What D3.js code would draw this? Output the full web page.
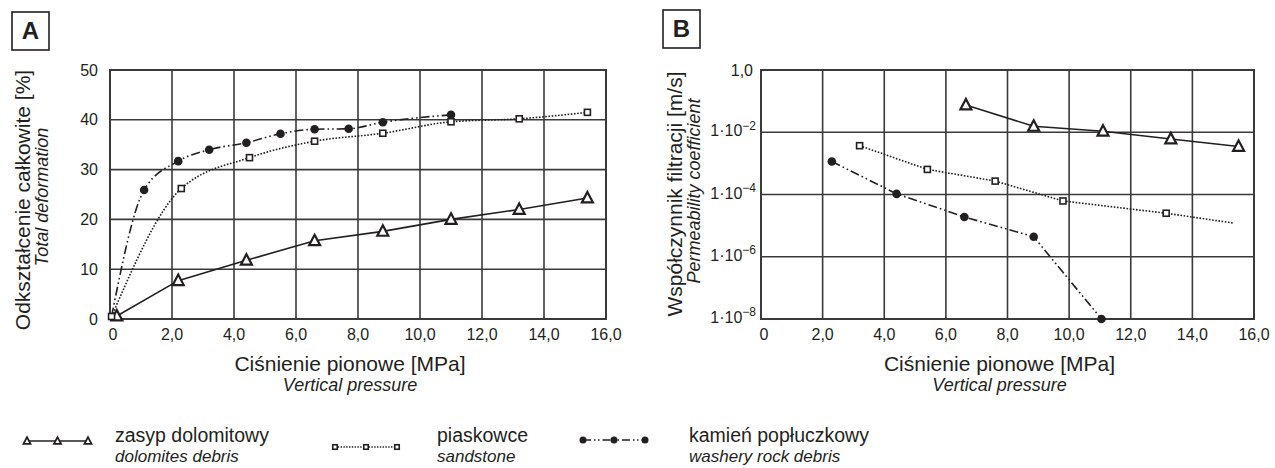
<!DOCTYPE html>
<html>
<head>
  <meta charset="utf-8">
  <script src="https://d3js.org/d3.v7.min.js"></script>
  <style>
    body { margin: 0; background: #fff; }
    text { font-family: "Liberation Sans", Arial, sans-serif; fill: #231f20; }
    .it { font-style: italic; }
  </style>
</head>
<body>
<script>
  "use strict";

  // ---- data ----
  var xTicks = [0, 2, 4, 6, 8, 10, 12, 14, 16];
  var yTicksA = [0, 10, 20, 30, 40, 50];
  var yTicksB = [1e-8, 1e-6, 1e-4, 1e-2, 1];
  var yLabelsB = ["1·10|−8", "1·10|−6", "1·10|−4", "1·10|−2", "1,0"];

  // A: total deformation [%]
  var dolomitesA = [[0.22, 0.6], [2.2, 7.7], [4.4, 11.8], [6.6, 15.7], [8.8, 17.6], [11.0, 20.0], [13.2, 22.0], [15.4, 24.3]];
  var sandstoneA = [[0.05, 0.5], [2.3, 26.2], [4.5, 32.4], [6.6, 35.7], [8.8, 37.3], [11.0, 39.6], [13.2, 40.2], [15.4, 41.5]];
  var washeryA   = [[0.05, 0.5], [1.1, 25.9], [2.2, 31.7], [3.2, 34.0], [4.4, 35.4], [5.5, 37.2], [6.6, 38.1], [7.7, 38.2], [8.8, 39.5], [11.0, 41.0]];

  // B: permeability coefficient [m/s]
  var dolomitesB = [[6.65, 0.075], [8.85, 0.0155], [11.1, 0.0108], [13.3, 0.0061], [15.5, 0.0035]];
  var sandstoneB = [[3.2, 0.0037], [5.4, 0.00064], [7.6, 0.00027], [9.8, 0.000062], [13.15, 0.000025]];
  var sandstoneBEnd = [15.35, 0.000012];
  var washeryB   = [[2.3, 0.00115], [4.4, 0.000105], [6.6, 0.000019], [8.85, 0.0000044], [11.05, 1e-8]];

  var W = 1275, H = 468, ink = "#231f20", grid = "#3a3a3a";
  var dashDot = "9,3,1.6,3,1.6,3";

  var svg = d3.select("body").append("svg")
    .attr("width", W).attr("height", H);

  function fmt(d) { return d === 0 ? "0" : d.toFixed(1).replace(".", ","); }

  function panel(x, y, left, right, letter, box, titles, yTitleX, yTitleY, yTicks, yFmt) {
    var g = svg.append("g");

    // letter box
    g.append("rect").attr("x", box[0]).attr("y", box[1]).attr("width", 37).attr("height", 38)
      .attr("fill", "none").attr("stroke", ink).attr("stroke-width", 1.6);
    g.append("text").attr("x", box[0] + 18.5).attr("y", box[1] + 27)
      .attr("text-anchor", "middle").attr("font-size", 24).attr("font-weight", "bold").text(letter);

    // grid
    g.selectAll(".vg").data(xTicks.slice(1, -1)).enter().append("line")
      .attr("x1", x).attr("x2", x).attr("y1", y.range()[0]).attr("y2", y.range()[1])
      .attr("stroke", grid).attr("stroke-width", 1.6);
    g.selectAll(".hg").data(yTicks.slice(1, -1)).enter().append("line")
      .attr("y1", y).attr("y2", y).attr("x1", left).attr("x2", right)
      .attr("stroke", grid).attr("stroke-width", 1.6);
    g.append("rect").attr("x", left).attr("y", y.range()[1])
      .attr("width", right - left).attr("height", y.range()[0] - y.range()[1])
      .attr("fill", "none").attr("stroke", grid).attr("stroke-width", 2);

    // x tick labels
    g.selectAll(".xl").data(xTicks).enter().append("text")
      .attr("x", function(d) { return x(d) + (d === 0 ? 3 : 0); }).attr("y", 340)
      .attr("text-anchor", "middle").attr("font-size", 16).text(fmt);

    // y tick labels
    yFmt(g.selectAll(".yl").data(yTicks).enter().append("text")
      .attr("y", y).attr("dy", "0.35em").attr("text-anchor", "end").attr("font-size", 16));

    // axis titles
    var cx = (left + right) / 2 - 8;
    g.append("text").attr("x", cx).attr("y", 371).attr("text-anchor", "middle")
      .attr("font-size", 21).text("Ciśnienie pionowe [MPa]");
    g.append("text").attr("class", "it").attr("x", cx).attr("y", 391).attr("text-anchor", "middle")
      .attr("font-size", 18).text("Vertical pressure");
    g.append("text").attr("transform", "translate(" + yTitleX[0] + "," + yTitleY + ") rotate(-90)")
      .attr("text-anchor", "middle").attr("font-size", 21).text(titles[0]);
    g.append("text").attr("class", "it").attr("transform", "translate(" + yTitleX[1] + "," + (yTitleY - 3) + ") rotate(-90)")
      .attr("text-anchor", "middle").attr("font-size", 18).text(titles[1]);
    return g;
  }

  function series(g, x, y, data, curve, dash, width) {
    var line = d3.line().x(function(d) { return x(d[0]); }).y(function(d) { return y(d[1]); }).curve(curve);
    g.append("path").attr("d", line(data)).attr("fill", "none").attr("stroke", ink)
      .attr("stroke-width", width).attr("stroke-dasharray", dash);
  }

  function triangles(g, pts, s) {
    g.selectAll(null).data(pts).enter().append("path")
      .attr("d", function(p) { return "M" + p[0] + "," + (p[1] - s * 0.55) + "L" + (p[0] + s / 2) + "," + (p[1] + s * 0.4) + "L" + (p[0] - s / 2) + "," + (p[1] + s * 0.4) + "Z"; })
      .attr("fill", "#fff").attr("stroke", ink).attr("stroke-width", s > 8 ? 2.2 : 1.8).attr("stroke-linejoin", "miter");
  }
  function squares(g, pts, s) {
    g.selectAll(null).data(pts).enter().append("rect")
      .attr("x", function(p) { return p[0] - s / 2; }).attr("y", function(p) { return p[1] - s / 2; })
      .attr("width", s).attr("height", s).attr("fill", "#fff").attr("stroke", ink).attr("stroke-width", 1.6);
  }
  function dots(g, pts, r) {
    g.selectAll(null).data(pts).enter().append("circle")
      .attr("cx", function(p) { return p[0]; }).attr("cy", function(p) { return p[1]; })
      .attr("r", r).attr("fill", ink);
  }
  function px(x, y, data) { return data.map(function(d) { return [x(d[0]), y(d[1])]; }); }

  // ---- panel A ----
  var xA = d3.scaleLinear().domain([0, 16]).range([110, 606]);
  var yA = d3.scaleLinear().domain([0, 50]).range([319, 70]);
  var gA = panel(xA, yA, 110, 606, "A", [12, 12],
    ["Odkształcenie całkowite [%]", "Total deformation"], [30, 48], 200, yTicksA,
    function(sel) { sel.attr("x", 98).text(function(d) { return d; }); });

  series(gA, xA, yA, dolomitesA, d3.curveLinear, null, 1.6);
  series(gA, xA, yA, sandstoneA, d3.curveMonotoneX, "1.6,1.6", 1.6);
  series(gA, xA, yA, washeryA, d3.curveMonotoneX, dashDot, 1.6);
  triangles(gA, px(xA, yA, dolomitesA), 11);
  squares(gA, px(xA, yA, sandstoneA), 6);
  dots(gA, px(xA, yA, washeryA.slice(1)), 4.3);

  // ---- panel B ----
  var xB = d3.scaleLinear().domain([0, 16]).range([761, 1254]);
  var yB = d3.scaleLog().domain([1e-8, 1]).range([319, 70]);
  var gB = panel(xB, yB, 761, 1254, "B", [663, 10],
    ["Współczynnik filtracji [m/s]", "Permeability coefficient"], [682, 700], 194, yTicksB,
    function(sel) {
      sel.attr("x", 756).each(function(d, i) {
        var parts = yLabelsB[i].split("|"), t = d3.select(this);
        if (parts.length === 1) { t.attr("x", 753).text(parts[0]); return; }
        t.append("tspan").attr("dy", "0.25em").text(parts[0]);
        t.append("tspan").attr("dy", "-0.55em").attr("font-size", 12).text(parts[1]);
      });
    });

  series(gB, xB, yB, dolomitesB, d3.curveLinear, null, 1.6);
  series(gB, xB, yB, sandstoneB.concat([sandstoneBEnd]), d3.curveLinear, "1.6,1.6", 1.6);
  series(gB, xB, yB, washeryB, d3.curveLinear, dashDot, 1.6);
  triangles(gB, px(xB, yB, dolomitesB), 11);
  squares(gB, px(xB, yB, sandstoneB), 6);
  dots(gB, px(xB, yB, washeryB), 4.3);

  // ---- legend ----
  var legend = [
    { x0: 27, x1: 88, y: 441, dash: null, mark: "tri", pl: "zasyp dolomitowy", en: "dolomites debris", tx: 115 },
    { x0: 335, x1: 397, y: 447, dash: "1.4,1.4", mark: "sq", pl: "piaskowce", en: "sandstone", tx: 437 },
    { x0: 583, x1: 645, y: 440, dash: "8,3,1.5,2.5,1.5,3", mark: "dot", pl: "kamień popłuczkowy", en: "washery rock debris", tx: 689 }
  ];
  var gL = svg.append("g");
  legend.forEach(function(l) {
    gL.append("line").attr("x1", l.x0).attr("x2", l.x1).attr("y1", l.y).attr("y2", l.y)
      .attr("stroke", ink).attr("stroke-width", 1.5).attr("stroke-dasharray", l.dash);
    var pts = [[l.x0, l.y], [(l.x0 + l.x1) / 2, l.y], [l.x1, l.y]];
    if (l.mark === "tri") triangles(gL, pts, 7);
    if (l.mark === "sq") squares(gL, pts, 4.5);
    if (l.mark === "dot") dots(gL, pts, 3.5);
    gL.append("text").attr("x", l.tx).attr("y", 442).attr("font-size", 19.5).text(l.pl);
    gL.append("text").attr("class", "it").attr("x", l.tx).attr("y", 462).attr("font-size", 17).text(l.en);
  });
</script>
</body>
</html>
